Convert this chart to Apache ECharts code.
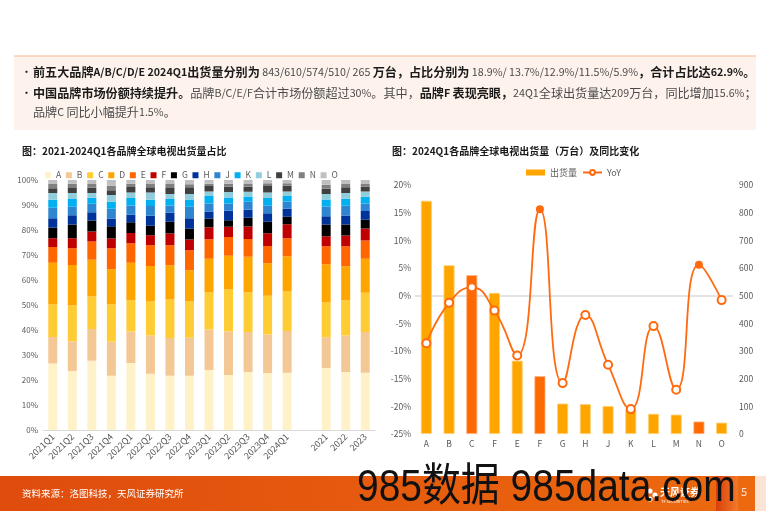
<!DOCTYPE html>
<html>
<head>
<meta charset="utf-8">
<script src="https://cdn.jsdelivr.net/npm/echarts@6/dist/echarts.min.js"></script>
<style>
  html, body { margin: 0; padding: 0; background: #fff; }
  #main { width: 766px; height: 511px; }
</style>
</head>
<body>
<div id="main"></div>
<script>
// left chart: share of global TV shipments by brand
const periods = ['2021Q1', '2021Q2', '2021Q3', '2021Q4', '2022Q1', '2022Q2', '2022Q3', '2022Q4',
    '2023Q1', '2023Q2', '2023Q3', '2023Q4', '2024Q1', '', '2021', '2022', '2023'];
const shareBrands = ['A', 'B', 'C', 'D', 'E', 'F', 'G', 'H', 'J', 'K', 'L', 'M', 'N', 'O'];
const shareA = [26.6, 23.6, 27.7, 21.7, 26.8, 22.5, 21.7, 21.7, 24.0, 22.0, 23.2, 22.8, 22.9, 24.8, 23.2, 22.9];
const shareB = [10.6, 11.9, 12.7, 13.6, 12.6, 15.3, 15.1, 15.2, 16.2, 17.5, 16.0, 15.4, 16.7, 12.3, 14.6, 16.3];
const shareC = [13.0, 14.3, 13.0, 15.0, 12.4, 13.6, 15.4, 14.5, 14.8, 16.7, 15.8, 15.5, 15.8, 13.9, 14.0, 15.7];
const shareD = [16.7, 16.2, 14.7, 14.0, 15.1, 14.2, 13.7, 12.5, 13.5, 13.5, 14.3, 13.0, 14.1, 15.3, 13.7, 13.6];
const shareE = [6.3, 6.7, 7.3, 8.4, 7.8, 8.3, 8.0, 8.0, 7.8, 7.5, 7.1, 6.9, 7.2, 7.2, 8.0, 7.3];
const shareF = [3.5, 4.0, 4.0, 3.9, 4.1, 4.0, 4.7, 4.3, 4.8, 4.1, 5.0, 5.1, 5.6, 4.0, 4.3, 4.8];
const shareG = [4.3, 5.5, 4.4, 4.9, 4.3, 3.8, 4.7, 4.3, 3.4, 2.6, 3.5, 4.6, 3.0, 4.7, 4.4, 3.5];
const shareH = [3.7, 3.7, 3.3, 3.1, 3.0, 4.0, 3.6, 4.2, 2.9, 3.8, 3.2, 3.4, 3.2, 3.3, 3.6, 3.5];
const shareJ = [4.2, 3.4, 3.4, 3.9, 3.7, 3.9, 2.9, 4.6, 3.2, 2.9, 3.2, 3.0, 2.9, 3.9, 3.9, 3.0];
const shareK = [3.2, 3.1, 2.4, 2.8, 3.0, 2.5, 2.6, 2.9, 3.0, 2.4, 2.1, 3.1, 2.2, 2.8, 2.8, 2.7];
const shareL = [2.7, 2.4, 1.9, 2.7, 2.2, 2.9, 2.0, 2.2, 1.8, 2.2, 1.9, 2.2, 1.8, 2.2, 2.3, 2.1];
const shareM = [1.9, 2.0, 2.1, 1.9, 2.2, 2.1, 2.4, 2.7, 2.2, 2.1, 2.0, 2.6, 2.3, 2.1, 2.3, 2.0];
const shareN = [1.7, 1.7, 1.5, 1.8, 1.3, 1.3, 1.6, 1.2, 0.9, 1.2, 1.1, 1.1, 1.0, 1.6, 1.3, 1.0];
const shareO = [1.6, 1.5, 1.6, 2.3, 1.5, 1.6, 1.6, 1.7, 1.5, 1.5, 1.6, 1.3, 1.3, 1.9, 1.6, 1.6];
const shareColors = ['#FFF2C9', '#F4C894', '#FFCC33', '#FFA500', '#FF6600', '#C00000', '#000000',
    '#003399', '#2E86D0', '#00B0F0', '#92CDDC', '#404040', '#808080', '#BFBFBF'];

// right chart: 2024Q1 shipments (10k units) and YoY
const brands = ['A', 'B', 'C', 'F', 'E', 'F', 'G', 'H', 'J', 'K', 'L', 'M', 'N', 'O'];
const shipments = [843, 610, 574, 510, 265, 209, 110, 108, 101, 90, 73, 70, 45, 41];
const yoy = [-8.6, -1.3, 1.5, -2.7, -10.8, 15.6, -15.8, -3.5, -12.5, -20.5, -5.5, -17.0, 5.6, -0.8];
const darkBarIdx = [2, 5, 12];        // bars drawn in the darker orange
const filledPoints = [5, 12];          // YoY markers drawn solid

const shareLabelTicks = ['0%', '10%', '20%', '30%', '40%', '50%', '60%', '70%', '80%', '90%', '100%'];

const FONT = '"Noto Sans CJK SC", "Liberation Sans", sans-serif';
const AXIS_GREY = '#595959';

function withGap(arr) {
    // empty slot between the quarters and the full years
    return arr.slice(0, 13).concat(['-']).concat(arr.slice(13));
}

// split text into CJK / latin runs so each gets its own size
function richLine(parts) {
    let out = '';
    parts.forEach(function (p) {
        const runs = p[0].match(/[\u3000-\u9fff\uff00-\uffef]+|[^\u3000-\u9fff\uff00-\uffef]+/g);
        runs.forEach(function (r) {
            const cjk = /[\u3000-\u9fff\uff00-\uffef]/.test(r);
            out += '{' + (p[1] ? 'b' : 'n') + (cjk ? 'c' : 'l') + '|' + r + '}';
        });
    });
    return out;
}
const bodyRich = {
    bc: { fontFamily: FONT, fontSize: 12.1, fontWeight: 'bold', fill: '#1a1a1a' },
    bl: { fontFamily: FONT, fontSize: 10.7, fontWeight: 'bold', fill: '#1a1a1a' },
    nc: { fontFamily: FONT, fontSize: 12.1, fill: '#4a4a4a' },
    nl: { fontFamily: FONT, fontSize: 10.7, fill: '#4a4a4a' }
};

const shareData = [shareA, shareB, shareC, shareD, shareE, shareF, shareG,
    shareH, shareJ, shareK, shareL, shareM, shareN, shareO];

const shareSeries = shareBrands.map(function (b, i) {
    return {
        name: b,
        type: 'bar',
        stack: 'share',
        xAxisIndex: 0,
        yAxisIndex: 0,
        barWidth: 9,
        itemStyle: { color: shareColors[i] },
        data: withGap(shareData[i])
    };
});

const chart = echarts.init(document.getElementById('main'), null, { renderer: 'canvas' });

chart.setOption({
    animation: false,
    textStyle: { fontFamily: FONT },
    graphic: [
        // text box on top
        { type: 'rect', shape: { x: 14, y: 56, width: 742, height: 74 }, style: { fill: '#FEF3EC' }, z: -10 },
        { type: 'rect', shape: { x: 14, y: 55.5, width: 742, height: 1 }, style: { fill: '#F7B88E' }, z: -9 },
        { type: 'text', x: 21, y: 72, style: { text: '•', font: '11px ' + FONT, fill: '#222', textVerticalAlign: 'middle' } },
        { type: 'text', x: 21, y: 93, style: { text: '•', font: '11px ' + FONT, fill: '#222', textVerticalAlign: 'middle' } },
        {
            type: 'text', x: 33, y: 72,
            style: {
                text: richLine([
                    ['前五大品牌A/B/C/D/E 2024Q1出货量分别为', true],
                    [' 843/610/574/510/ 265 ', false],
                    ['万台，占比分别为', true],
                    [' 18.9%/ 13.7%/12.9%/11.5%/5.9%', false],
                    ['，合计占比达62.9%。', true]
                ]),
                textVerticalAlign: 'middle',
                rich: bodyRich
            }
        },
        {
            type: 'text', x: 33, y: 93,
            style: {
                text: richLine([
                    ['中国品牌市场份额持续提升。', true],
                    ['品牌B/C/E/F合计市场份额超过30%。其中，', false],
                    ['品牌F 表现亮眼，', true],
                    ['24Q1全球出货量达209万台，同比增加15.6%；', false]
                ]),
                textVerticalAlign: 'middle',
                rich: bodyRich
            }
        },
        {
            type: 'text', x: 33, y: 112,
            style: { text: richLine([['品牌C 同比小幅提升1.5%。', false]]), textVerticalAlign: 'middle', rich: bodyRich }
        },

        // chart titles
        { type: 'text', x: 22, y: 151, style: { text: '图：2021-2024Q1各品牌全球电视出货量占比', font: 'bold 10px ' + FONT, fill: '#1a1a1a', textVerticalAlign: 'middle' } },
        { type: 'text', x: 392, y: 151, style: { text: '图：2024Q1各品牌全球电视出货量（万台）及同比变化', font: 'bold 10px ' + FONT, fill: '#1a1a1a', textVerticalAlign: 'middle' } },

        // footer band
        {
            type: 'rect', shape: { x: 0, y: 476, width: 755, height: 35 }, z: -10,
            style: {
                fill: new echarts.graphic.LinearGradient(0, 0, 1, 0, [
                    { offset: 0, color: '#DF4C0E' },
                    { offset: 1, color: '#EC6A0F' }
                ])
            }
        },
        {
            type: 'rect', shape: { x: 716, y: 476, width: 22, height: 35 }, z: -9,
            style: {
                fill: new echarts.graphic.LinearGradient(0, 0, 1, 0, [
                    { offset: 0, color: '#D9400C' },
                    { offset: 1, color: '#F07A2A' }
                ])
            }
        },
        { type: 'rect', shape: { x: 755, y: 476, width: 11, height: 35 }, style: { fill: '#FBE3D6' }, z: -9 },
        { type: 'text', x: 22, y: 493, style: { text: '资料来源：洛图科技，天风证券研究所', font: '9.5px ' + FONT, fill: '#fff', textVerticalAlign: 'middle' } },
        { type: 'circle', shape: { cx: 650, cy: 491, r: 2.6 }, style: { fill: '#fff' } },
        { type: 'circle', shape: { cx: 655, cy: 495, r: 2.6 }, style: { fill: '#fff' } },
        { type: 'circle', shape: { cx: 650, cy: 499, r: 2.6 }, style: { fill: '#fff' } },
        { type: 'text', x: 660, y: 492, style: { text: '天风证券', font: 'bold 10px ' + FONT, fill: '#fff', textVerticalAlign: 'middle' } },
        { type: 'text', x: 661, y: 501, style: { text: 'TF SECURITIES', font: '4px ' + FONT, fill: '#fff', textVerticalAlign: 'middle' } },
        { type: 'text', x: 741, y: 492, style: { text: '5', font: '11px ' + FONT, fill: '#FDE6D8', textVerticalAlign: 'middle' } },

        // watermark
        {
            type: 'text', x: 357, y: 489, scaleX: 0.865, z: 100,
            style: { text: '985数据 985data.com', font: '45px "Liberation Sans", "Noto Sans CJK SC", sans-serif', fill: '#111', textVerticalAlign: 'middle' }
        }
    ],
    legend: [
        {
            data: shareBrands,
            left: 40,
            top: 166,
            icon: 'rect',
            itemWidth: 6,
            itemHeight: 6,
            itemGap: 4.7,
            textStyle: { fontSize: 8.5, color: AXIS_GREY, fontFamily: FONT },
            selectedMode: false
        },
        {
            data: [{ name: '出货量', icon: 'rect' }, { name: 'YoY' }],
            left: 521,
            top: 163,
            itemWidth: 19,
            itemHeight: 6,
            itemGap: 5,
            textStyle: { fontSize: 9, color: AXIS_GREY, fontFamily: FONT },
            selectedMode: false
        }
    ],
    grid: [
        { left: 43, right: 391, top: 180, bottom: 81 },
        { left: 415, right: 33, top: 185, bottom: 77 }
    ],
    xAxis: [
        {
            type: 'category',
            gridIndex: 0,
            data: periods,
            axisLine: { lineStyle: { color: '#D9D9D9' } },
            axisTick: { show: false },
            axisLabel: { rotate: 45, fontSize: 9, color: AXIS_GREY, margin: 5, interval: 0 }
        },
        {
            type: 'category',
            gridIndex: 1,
            data: brands,
            axisLine: { show: false },
            axisTick: { show: false },
            axisLabel: { fontSize: 8.5, color: AXIS_GREY, margin: 6, interval: 0 }
        }
    ],
    yAxis: [
        {
            type: 'value',
            gridIndex: 0,
            min: 0,
            max: 100,
            interval: 10,
            axisLine: { show: false },
            axisTick: { show: false },
            splitLine: { show: false },
            axisLabel: {
                fontSize: 8, color: AXIS_GREY, margin: 5,
                formatter: function (v) { return shareLabelTicks[Math.round(v / 10)]; }
            }
        },
        {
            type: 'value',
            gridIndex: 1,
            position: 'left',
            min: -25,
            max: 20,
            interval: 5,
            axisLine: { show: false },
            axisTick: { show: false },
            splitLine: { show: false },
            axisLabel: { fontSize: 8.5, color: AXIS_GREY, margin: 4, formatter: '{value}%' }
        },
        {
            type: 'value',
            gridIndex: 1,
            position: 'right',
            min: 0,
            max: 900,
            interval: 100,
            axisLine: { show: false },
            axisTick: { show: false },
            splitLine: { show: false },
            axisLabel: { fontSize: 8.5, color: AXIS_GREY, margin: 6 }
        }
    ],
    series: shareSeries.concat([
        {
            name: '出货量',
            type: 'bar',
            xAxisIndex: 1,
            yAxisIndex: 2,
            barWidth: 11,
            z: 2,
            itemStyle: { color: '#FFA500' },
            data: shipments.map(function (v, i) {
                const dark = darkBarIdx.indexOf(i) >= 0;
                return {
                    value: v,
                    itemStyle: {
                        color: dark ? '#FF6A00' : '#FFA500',
                        borderColor: dark ? '#FFB080' : '#FFD27A',
                        borderWidth: 0.8
                    }
                };
            }),
            markLine: {
                silent: true,
                symbol: 'none',
                z: 1,
                label: { show: false },
                lineStyle: { color: '#E3E3E3', width: 2, type: 'solid' },
                data: [{ yAxis: 500 }]   // 0% on the YoY axis
            }
        },
        {
            name: 'YoY',
            type: 'line',
            xAxisIndex: 1,
            yAxisIndex: 1,
            smooth: true,
            z: 5,
            symbol: 'emptyCircle',
            symbolSize: 8,
            lineStyle: { color: '#FF6A0E', width: 1.8 },
            itemStyle: { color: '#FF6A0E', borderWidth: 1 },
            data: yoy.map(function (v, i) {
                if (filledPoints.indexOf(i) >= 0) {
                    return { value: v, symbol: 'circle', symbolSize: 8 };
                }
                return v;
            })
        }
    ])
});
</script>
</body>
</html>
